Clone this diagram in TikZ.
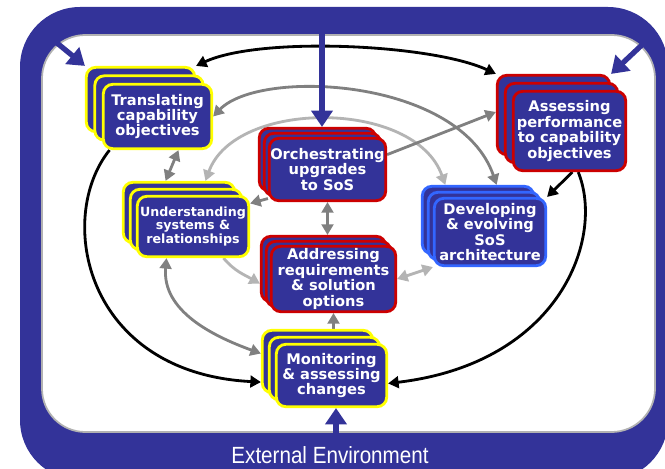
\documentclass[tikz,border=0pt]{standalone}
\usepackage{fontspec}
\setmainfont{DejaVu Sans}
\newfontfamily\envfont[FakeStretch=0.88]{Liberation Sans}
\usetikzlibrary{arrows.meta,calc,backgrounds}

\definecolor{navy}{RGB}{51,51,153}
\definecolor{boxred}{RGB}{204,0,0}
\definecolor{boxyellow}{RGB}{255,255,0}
\definecolor{boxblue}{RGB}{51,102,255}
\definecolor{arrowgray}{RGB}{128,128,128}
\definecolor{arrowlight}{RGB}{180,180,180}

% three stacked cards: options, name, centre, offset, text
\newcommand{\actstack}[5]{%
  \node[act,#1] (#2-back) at ($(#3)+(-2*#4,2*#4)$) {};
  \node[act,#1] (#2-mid) at ($(#3)+(-#4,#4)$) {};
  \node[act,#1] (#2) at (#3) {#5};
}

\begin{document}
\begin{tikzpicture}[x=0.03cm, y=0.03cm,
    act/.style={rectangle, rounded corners=8pt, fill=navy, line width=2.4pt, text=white,
        align=center, inner sep=0pt, font=\bfseries\fontsize{12.5}{13.2}\selectfont},
    yel/.style={act, draw=boxyellow},
    red/.style={act, draw=boxred},
    blu/.style={act, draw=boxblue},
    blackarrow/.style={draw=black, line width=2.4pt, >={Triangle[length=9pt,width=10pt]}},
    grayarrow/.style={draw=arrowgray, line width=2.4pt, >={Triangle[length=9pt,width=10pt]}},
    lightarrow/.style={draw=arrowlight, line width=2.4pt, >={Triangle[length=9pt,width=10pt]}},
    envarrow/.style={draw=navy, line width=4.5pt, -{Triangle[length=14pt,width=18pt]}}]
\useasboundingbox (0,0) rectangle (665,468);

\actstack{yel, minimum width=3.25cm, minimum height=1.93cm}{trans}{157.5,351.5}{8.5}{Translating\\capability\\objectives}
\actstack{red, minimum width=3.49cm, minimum height=1.87cm}{orch}{327.5,298.5}{5}{Orchestrating\\upgrades\\to SoS}
\actstack{red, minimum width=3.37cm, minimum height=2.38cm}{assess}{569.5,337}{8}{Assessing\\performance\\to capability\\objectives}
\actstack{yel, minimum width=3.34cm, minimum height=1.81cm, font=\bfseries\fontsize{10.8}{11.6}\selectfont}{under}{193,241.5}{7}{Understanding\\systems \&\\relationships}
\actstack{blu, minimum width=3.34cm, minimum height=2.02cm}{devel}{490,236}{6}{Developing\\\& evolving\\SoS\\architecture}
\actstack{red, minimum width=3.73cm, minimum height=1.96cm}{addr}{333.5,189}{5}{Addressing\\requirements\\\& solution\\options}
\actstack{yel, minimum width=3.31cm, minimum height=1.87cm}{monit}{331.5,92.5}{7}{Monitoring\\\& assessing\\changes}

\node[anchor=base, text=white, font=\envfont\fontsize{20}{22}\selectfont] (envlabel) at (330,5) {External Environment};

\coordinate (envtop) at (322,455);
\coordinate (envtl) at (57,425);
\coordinate (envtr) at (644,425);
\coordinate (envbot) at (336,30);

\begin{pgfonlayer}{background}
% frame
\fill[navy, rounded corners=1.8cm] (20,-12) rectangle (668,461);
\filldraw[fill=white, draw=gray!60, line width=1.5pt, rounded corners=1.3cm] (42,36) rectangle (655,433);

% outer loop
\draw[blackarrow,<->] (trans-back.north east) to[out=25,in=155,looseness=0.6] (assess-back.north west);
\draw[blackarrow,->] (trans.215) .. controls (55,250) and (85,95) .. (monit-back.200);
\draw[blackarrow,->] (assess.-78) .. controls (605,230) and (560,105) .. (monit.-8);
\draw[blackarrow,->] (assess.-86) -- (devel.north east);

% inner links
\draw[grayarrow,<->] (trans.east) .. controls (260,400) and (460,390) .. (devel-back.62);
\draw[lightarrow,<->] (under-back.50) .. controls (235,369) and (415,369) .. (devel-back.133);
\draw[grayarrow,->] (orch.14) -- (assess-back.177);
\draw[grayarrow,->] (orch.206) -- (under.22);
\draw[grayarrow,<->] (trans.-58) -- (under-back.113);
\draw[grayarrow,<->] (orch.south) -- (orch.south |- addr-back.north);
\draw[lightarrow,->] (under.-46) to[out=-50,in=150] (addr-back.193);
\draw[lightarrow,<->] (addr.east) -- (devel.south west);
\draw[grayarrow,<->] (under.230) to[out=-95,in=160] (monit-back.172);
\draw[grayarrow,->] (addr.south |- monit-back.north) -- (addr.south);

% environment
\draw[envarrow] (envtop) -- (envtop |- orch-back.north);
\draw[envarrow] (envtl) -- (trans-back.north west);
\draw[envarrow] (envtr) -- (assess-back.north east);
\draw[envarrow] (envbot) -- (envbot |- monit.south);
\end{pgfonlayer}
\end{tikzpicture}
\end{document}
